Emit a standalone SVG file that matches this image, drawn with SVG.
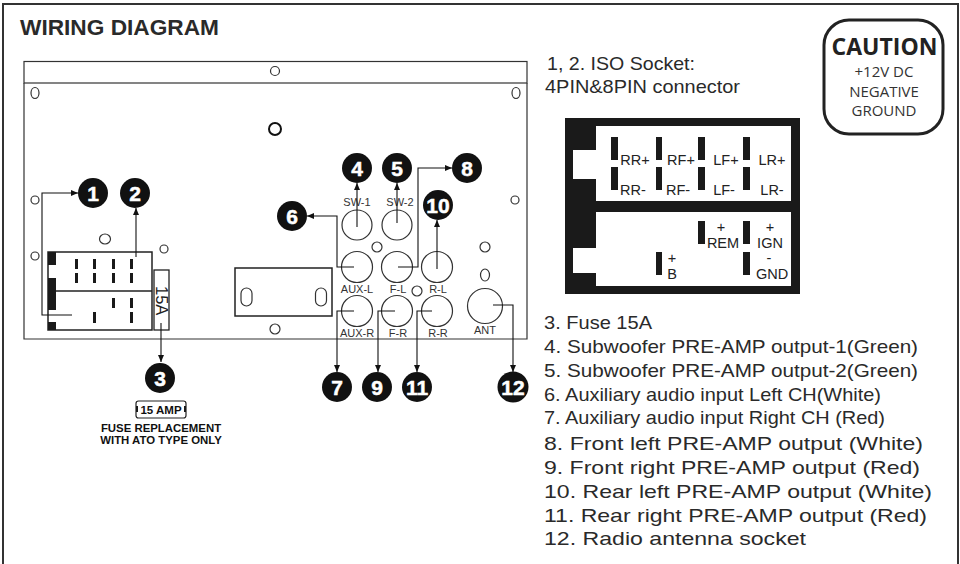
<svg xmlns="http://www.w3.org/2000/svg" width="960" height="564" viewBox="0 0 960 564">
<defs><marker id="a" markerWidth="7" markerHeight="6" refX="7" refY="3" orient="auto" markerUnits="userSpaceOnUse"><path d="M0 0L7 3L0 6Z" fill="#111"/></marker></defs>
<style>
.l{fill:none;stroke:#333;stroke-width:1.2}
.k{fill:none;stroke:#222;stroke-width:1.5}
.c{fill:none;stroke:#111;stroke-width:1.1;marker-end:url(#a)}
.n{fill:#111}
.nt{font:bold 21px "Liberation Sans",Arial,sans-serif;fill:#fff;text-anchor:middle;stroke:#fff;stroke-width:.5}
.sm{font:11px "Liberation Sans",Arial,sans-serif;fill:#333;text-anchor:middle}
.t{font:19px "Liberation Sans",Arial,sans-serif;fill:#2a2a2a}
.p{font:14.5px "Liberation Sans",Arial,sans-serif;fill:#222;text-anchor:middle}
.b{fill:#1a1a1a}
</style>
<rect width="960" height="564" fill="#fff"/>
<path d="M3 564V4H958V564" fill="none" stroke="#333" stroke-width="2"/>
<text x="20" y="35" style="font:bold 21.5px 'Liberation Sans',Arial,sans-serif" fill="#2a2a2a" textLength="199" lengthAdjust="spacingAndGlyphs">WIRING DIAGRAM</text>
<g id="panel">
<rect x="24" y="61.5" width="503" height="21.5" class="l"/>
<path d="M24 83V339H527V83" class="l"/>
<circle cx="275" cy="71" r="4.5" class="l"/>
<ellipse cx="35" cy="93" rx="4" ry="5.5" class="l"/><ellipse cx="516" cy="93" rx="4" ry="5.5" class="l"/>
<circle cx="275" cy="129" r="6" fill="none" stroke="#111" stroke-width="2"/>
<circle cx="35" cy="200" r="4" class="l"/><circle cx="35" cy="256" r="4" class="l"/>
<ellipse cx="105" cy="239" rx="5.5" ry="5" class="l"/><circle cx="164" cy="249" r="4" class="l"/>
<circle cx="515" cy="200" r="4" class="l"/><circle cx="377" cy="247" r="5" class="l"/><circle cx="485" cy="247" r="5" class="l"/>
<ellipse cx="485" cy="275" rx="4.5" ry="6" class="l"/><circle cx="417" cy="291" r="5" class="l"/><circle cx="275" cy="329" r="5" class="l"/>
<rect x="235" y="268" width="97" height="48" class="k"/>
<rect x="241" y="288" width="11" height="18" rx="5.5" class="l"/><rect x="315.5" y="288" width="11" height="18" rx="5.5" class="l"/>
</g>
<g id="iso-socket-small">
<rect x="48" y="252" width="104" height="78" class="k"/>
<path d="M48 291H152" class="k"/>
<rect x="48" y="252" width="8" height="13" class="b"/><rect x="48" y="278" width="8" height="32" class="b"/><rect x="48" y="322" width="8" height="8" class="b"/>
<path d="M75 259h3v10h-3zM75 273h3v10h-3zM93 259h3v10h-3zM93 273h3v10h-3zM112 259h3v10h-3zM112 273h3v10h-3zM130 259h3v10h-3zM130 273h3v10h-3zM112 298h3v10h-3zM130 298h3v10h-3zM93 312h3v11h-3zM130 312h3v11h-3z" class="b"/>
<rect x="154" y="270" width="15" height="60" fill="#fff" stroke="#222" stroke-width="1.3"/>
<text transform="translate(155.5,286) rotate(90)" style="font:16.5px 'Liberation Sans',Arial,sans-serif" fill="#222">15A</text>
</g>
<g id="sockets">
<circle cx="357" cy="225" r="15" class="l"/><circle cx="397" cy="225" r="15" class="l"/>
<circle cx="357" cy="267" r="15.5" class="l"/><circle cx="397" cy="267" r="15.5" class="l"/><circle cx="437" cy="267" r="15.5" class="l"/>
<circle cx="357" cy="311" r="15.5" class="l"/><circle cx="397" cy="311" r="15.5" class="l"/><circle cx="437" cy="311" r="15.5" class="l"/>
<circle cx="485" cy="306" r="17.5" class="l"/>
<text x="357" y="206" class="sm">SW-1</text><text x="400" y="206" class="sm">SW-2</text>
<text x="357" y="293" class="sm">AUX-L</text><text x="398" y="293" class="sm">F-L</text><text x="438" y="293" class="sm">R-L</text>
<text x="357" y="337" class="sm">AUX-R</text><text x="398" y="337" class="sm">F-R</text><text x="438" y="337" class="sm">R-R</text><text x="485" y="334" class="sm">ANT</text>
</g>
<g id="connectors">
<path class="c" d="M72 315H42V193H78"/>
<path class="c" d="M136 257V208"/>
<path class="c" d="M161 323V362"/>
<path class="c" d="M357 227V183"/>
<path class="c" d="M397 223V183"/>
<path class="c" d="M354 267H337V216H307"/>
<path class="c" d="M354 311H337V372"/>
<path class="c" d="M398 267H418V168H452"/>
<path class="c" d="M395 311H378V372"/>
<path class="c" d="M437 269V220"/>
<path class="c" d="M432 311H417V372"/>
<path class="c" d="M493 305H513V372"/>
</g>
<g id="n1"><circle class="n" cx="93" cy="193" r="15"/><text class="nt" x="93" y="200.5">1</text></g>
<g id="n2"><circle class="n" cx="135" cy="193" r="15"/><text class="nt" x="135" y="200.5">2</text></g>
<g id="n3"><circle class="n" cx="160" cy="378" r="15"/><text class="nt" x="160" y="385.5">3</text></g>
<g id="n4"><circle class="n" cx="357" cy="168" r="15"/><text class="nt" x="357" y="175.5">4</text></g>
<g id="n5"><circle class="n" cx="397" cy="168" r="15"/><text class="nt" x="397" y="175.5">5</text></g>
<g id="n6"><circle class="n" cx="292" cy="216" r="15"/><text class="nt" x="292" y="223.5">6</text></g>
<g id="n7"><circle class="n" cx="337" cy="387" r="15"/><text class="nt" x="337" y="394.5">7</text></g>
<g id="n8"><circle class="n" cx="467" cy="168" r="15"/><text class="nt" x="467" y="175.5">8</text></g>
<g id="n9"><circle class="n" cx="377" cy="387" r="15"/><text class="nt" x="377" y="394.5">9</text></g>
<g id="n10"><circle class="n" cx="438" cy="205" r="15"/><text class="nt" x="438" y="212.5">10</text></g>
<g id="n11"><circle class="n" cx="417" cy="387" r="15"/><text class="nt" x="417" y="394.5">11</text></g>
<g id="n12"><circle class="n" cx="513" cy="387" r="15.5"/><text class="nt" x="513" y="394.5">12</text></g>
<g id="fuse-note">
<rect x="136" y="401" width="50" height="17" rx="2.5" fill="none" stroke="#222" stroke-width="1.2"/>
<path d="M136 406h2v6h-2zM184 406h2v6h-2z" class="b"/>
<text x="161" y="414" text-anchor="middle" style="font:bold 11.5px 'Liberation Sans',Arial,sans-serif" fill="#111">15 AMP</text>
<text x="161" y="432" text-anchor="middle" style="font:bold 11.4px 'Liberation Sans',Arial,sans-serif" fill="#111">FUSE REPLACEMENT</text>
<text x="161" y="444" text-anchor="middle" style="font:bold 11.4px 'Liberation Sans',Arial,sans-serif" fill="#111">WITH ATO TYPE ONLY</text>
</g>
<g id="caution">
<rect x="824" y="20" width="119" height="114" rx="25" fill="#fff" stroke="#222" stroke-width="3"/>
<text x="884.5" y="55" text-anchor="middle" style="font:bold 23px 'Open Sans',sans-serif" fill="#222">CAUTION</text>
<text x="884" y="77" text-anchor="middle" style="font:15px 'Open Sans',sans-serif" fill="#333">+12V DC</text>
<text x="884" y="97" text-anchor="middle" style="font:15px 'Open Sans',sans-serif" fill="#333">NEGATIVE</text>
<text x="884" y="116" text-anchor="middle" style="font:15px 'Open Sans',sans-serif" fill="#333">GROUND</text>
</g>
<text x="547" y="70" class="t" textLength="148" lengthAdjust="spacingAndGlyphs">1, 2. ISO Socket:</text>
<text x="545" y="93" class="t" textLength="195" lengthAdjust="spacingAndGlyphs">4PIN&amp;8PIN connector</text>
<g id="iso-connector">
<rect x="565" y="118" width="235" height="176" fill="#1a1a1a"/>
<path d="M596 126H791V201H596V179H573V150H596ZM596 212H791V286H596V273H573V248H596Z" fill="#fff"/>
<path d="M611 137h7v23h-7zM611 167h7v23h-7zM656 137h6v23h-6zM656 167h6v23h-6zM698 137h7v23h-7zM698 167h7v23h-7zM743 137h7v23h-7zM743 167h7v23h-7zM698 221h7v23h-7zM743 221h7v23h-7zM656 252h6v23h-6zM743 252h7v23h-7z" class="b"/>
<text x="635" y="165" class="p">RR+</text><text x="681" y="165" class="p">RF+</text><text x="726" y="165" class="p">LF+</text><text x="772" y="165" class="p">LR+</text>
<text x="633" y="195" class="p">RR-</text><text x="678" y="195" class="p">RF-</text><text x="724" y="195" class="p">LF-</text><text x="772" y="195" class="p">LR-</text>
<text x="721" y="232" class="p">+</text><text x="723" y="248" class="p">REM</text>
<text x="770" y="232" class="p">+</text><text x="770" y="248" class="p">IGN</text>
<text x="672" y="263" class="p">+</text><text x="672" y="279" class="p">B</text>
<text x="769" y="263" class="p">-</text><text x="772" y="279" class="p">GND</text>
</g>
<g id="legend">
<text x="544" y="329" class="t" textLength="108" lengthAdjust="spacingAndGlyphs">3. Fuse 15A</text>
<text x="544" y="353" class="t" textLength="374" lengthAdjust="spacingAndGlyphs">4. Subwoofer PRE-AMP output-1(Green)</text>
<text x="544" y="377" class="t" textLength="374" lengthAdjust="spacingAndGlyphs">5. Subwoofer PRE-AMP output-2(Green)</text>
<text x="544" y="401" class="t" textLength="337" lengthAdjust="spacingAndGlyphs">6. Auxiliary audio input Left CH(White)</text>
<text x="544" y="424" class="t" textLength="341" lengthAdjust="spacingAndGlyphs">7. Auxiliary audio input Right CH (Red)</text>
<text x="544" y="450" class="t" textLength="379" lengthAdjust="spacingAndGlyphs">8. Front left PRE-AMP output (White)</text>
<text x="544" y="474" class="t" textLength="376" lengthAdjust="spacingAndGlyphs">9. Front right PRE-AMP output (Red)</text>
<text x="544" y="498" class="t" textLength="388" lengthAdjust="spacingAndGlyphs">10. Rear left PRE-AMP output (White)</text>
<text x="544" y="522" class="t" textLength="383" lengthAdjust="spacingAndGlyphs">11. Rear right PRE-AMP output (Red)</text>
<text x="544" y="545" class="t" textLength="262" lengthAdjust="spacingAndGlyphs">12. Radio antenna socket</text>
</g>
</svg>
